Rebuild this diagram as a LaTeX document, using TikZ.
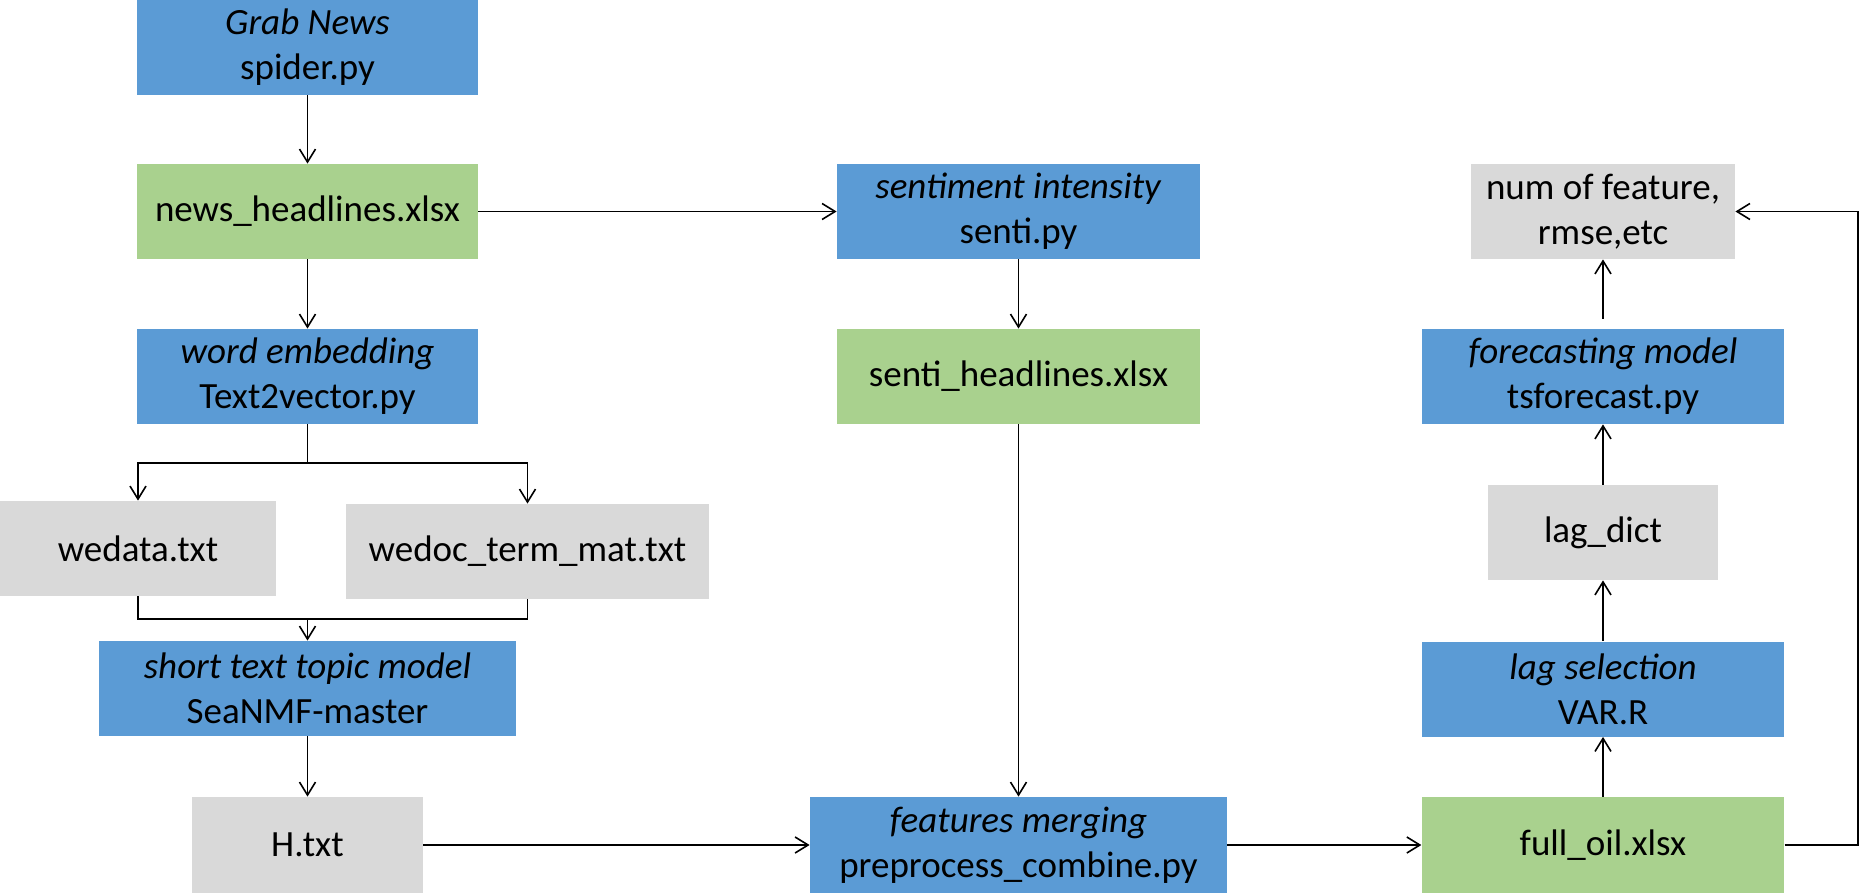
\documentclass[tikz,border=0pt]{standalone}
\usepackage{fontspec}
\setmainfont{Carlito}
\usetikzlibrary{arrows.meta}
\definecolor{cblue}{HTML}{5B9BD5}
\definecolor{cgreen}{HTML}{A9D18E}
\definecolor{cgray}{HTML}{D9D9D9}
\begin{document}
\begin{tikzpicture}[x=0.5pt,y=-0.5pt,
  box/.style={rectangle,inner sep=0pt,align=center,minimum height=47.5pt,
    font=\fontsize{18.5}{22.5}\selectfont},
  bluebox/.style={box,fill=cblue},
  greenbox/.style={box,fill=cgreen},
  graybox/.style={box,fill=cgray},
  arr/.style={draw=black,line width=0.8pt,-{Straight Barb[length=6.5pt,width=8pt,line width=0.8pt]}},
  ln/.style={draw=black,line width=0.8pt}]
\useasboundingbox (0,0) rectangle (1863,893);
% column 1
\node[bluebox,minimum width=170.5pt] (grab) at (307.5,47.5) {\textit{Grab News}\\spider.py};
\node[greenbox,minimum width=170.5pt] (news) at (307.5,211.5) {news\_headlines.xlsx};
\node[bluebox,minimum width=170.5pt] (embed) at (307.5,376.5) {\textit{word embedding}\\Text2vector.py};
\node[graybox,minimum width=138pt] (wedata) at (138,548.5) {wedata.txt};
\node[graybox,minimum width=181.5pt] (wedoc) at (527.5,551.5) {wedoc\_term\_mat.txt};
\node[bluebox,minimum width=208.5pt] (seanmf) at (307.5,688.5) {\textit{short text topic model}\\SeaNMF-master};
\node[graybox,minimum width=115.5pt,minimum height=48pt] (htxt) at (307.5,845) {H.txt};
% column 2
\node[bluebox,minimum width=181.5pt] (senti) at (1018.5,211.5) {\textit{sentiment intensity}\\senti.py};
\node[greenbox,minimum width=181.5pt] (sentih) at (1018.5,376.5) {senti\_headlines.xlsx};
\node[bluebox,minimum width=208.5pt,minimum height=48pt] (merge) at (1018.5,845) {\textit{features merging}\\preprocess\_combine.py};
% column 3
\node[graybox,minimum width=132pt] (num) at (1603,211.5) {num of feature,\\rmse,etc};
\node[bluebox,minimum width=181.25pt] (fore) at (1603,376.5) {\textit{forecasting model}\\tsforecast.py};
\node[graybox,minimum width=115pt] (lag) at (1603,532.5) {lag\_dict};
\node[bluebox,minimum width=181.25pt] (lagsel) at (1603,689) {\textit{lag selection}\\VAR.R};
\node[greenbox,minimum width=181.25pt,minimum height=48pt] (full) at (1603,845) {full\_oil.xlsx};
% connectors
\draw[arr] (grab) -- (news);
\draw[arr] (news) -- (embed);
\draw[arr] (news) -- (senti);
\draw[arr] (senti) -- (sentih);
\draw[arr] (sentih) -- (merge);
\coordinate (br) at (307.5,463);
\draw[ln] (embed.south) -- (br);
\draw[arr] (br) -| (wedata.north);
\draw[arr] (br) -| (wedoc.north);
\coordinate (mg) at (307.5,619);
\draw[ln] (wedata.south) |- (mg);
\draw[ln] (wedoc.south) |- (mg);
\draw[arr] (mg) -- (seanmf.north);
\draw[arr] (seanmf) -- (htxt);
\draw[arr] (htxt) -- (merge);
\draw[arr] (merge) -- (full);
\draw[arr] (full) -- (lagsel);
\draw[arr] (lagsel) -- (lag);
\draw[arr] (lag) -- (fore);
\draw[arr,shorten <=5pt] (fore) -- (num);
\draw[arr] (full.east) -- ++(73.5,0) |- (num.east);
\end{tikzpicture}
\end{document}
